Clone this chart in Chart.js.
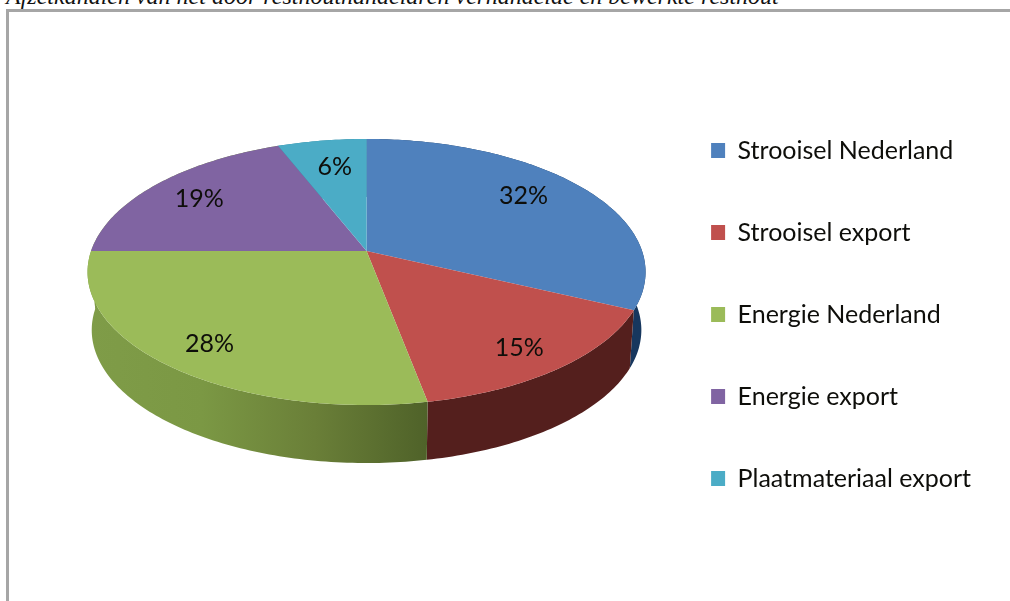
<!DOCTYPE html>
<html>
<head>
<meta charset="utf-8">
<script src="https://cdn.jsdelivr.net/npm/chart.js@4/dist/chart.umd.min.js"></script>
<style>
    html, body { margin: 0; padding: 0; background: #fff; overflow: hidden; }
    #kop { position: absolute; left: 6px; top: -17px; font: italic 24px "Liberation Serif", serif; color: #111; white-space: nowrap; }
    #kader { position: absolute; left: 6px; top: 9px; width: 1010px; height: 600px; border-left: 3px solid #a6a6a6; border-top: 3px solid #a6a6a6; }
    #wrap { position: absolute; left: 0; top: 0; width: 1010px; height: 601px; }
</style>
</head>
<body>
<div id="kop">Afzetkanalen van het door resthouthandelaren verhandelde en bewerkte resthout</div>
<div id="kader"></div>
<div id="wrap"><canvas id="pieChart" width="1010" height="601"></canvas></div>
<script>
var categories = ["Strooisel Nederland", "Strooisel export", "Energie Nederland", "Energie export", "Plaatmateriaal export"];
var shares = [32, 15, 28, 19, 6];
var sliceColors = ["#4f81bd", "#c0504d", "#9bbb59", "#8064a2", "#4bacc6"];
// side of the cake: colours from left to right over each wall
var greenWall = ["#7f9c48", "#7b9844", "#6a7f38", "#4f6229"];
var wallColors = [["#17375e", "#17375e"], ["#4f1f1c", "#541f1d"], greenWall, greenWall, ["#31859c", "#31859c"]];
var labelNudge = [[-7, -6], [13, 12], [-12, 10], [-7, -1], [3, 2]];

var squash = 0.4708;     // top face height / width
var perspective = 0.158; // near rim looks bigger than far rim
var depth = 58;          // height of the wall
var lowerRim = 0.985;    // bottom rim is a bit narrower
var liftY = -63.5;       // legend stays centred in the area, the pie sits higher

function project(arc, angle, frac) {
    var u = Math.cos(angle) * frac, v = Math.sin(angle) * frac;
    var d = 1 - perspective * v;
    return {
        x: arc.x + arc.outerRadius * u / d,
        y: arc.y + liftY + arc.outerRadius * squash * v / d
    };
}

function rimPoints(arc) {
    var pts = [];
    var steps = Math.max(4, Math.ceil((arc.endAngle - arc.startAngle) * 60));
    for (var i = 0; i <= steps; i++) {
        pts.push(project(arc, arc.startAngle + (arc.endAngle - arc.startAngle) * i / steps, 1));
    }
    return pts;
}

// top face of a slice, in perspective instead of a flat circle
Chart.ArcElement.prototype.draw = function (ctx) {
    var apex = project(this, 0, 0);
    ctx.save();
    ctx.fillStyle = this.options.backgroundColor;
    ctx.beginPath();
    ctx.moveTo(apex.x, apex.y);
    rimPoints(this).forEach(function (p) { ctx.lineTo(p.x, p.y); });
    ctx.closePath();
    ctx.fill();
    ctx.restore();
};

var cakePlugin = {
    id: 'cake',
    beforeDatasetsDraw: function (chart) {
        var ctx = chart.ctx;
        chart.getDatasetMeta(0).data.forEach(function (arc, i) {
            var pts = rimPoints(arc);
            var cx = arc.x;
            var grad = ctx.createLinearGradient(89, 0, 427, 0);
            wallColors[i].forEach(function (c, n, all) { grad.addColorStop(n / (all.length - 1), c); });
            ctx.fillStyle = grad;
            ctx.beginPath();
            pts.forEach(function (p, k) { k ? ctx.lineTo(p.x, p.y) : ctx.moveTo(p.x, p.y); });
            for (var k = pts.length - 1; k >= 0; k--) {
                ctx.lineTo(cx + (pts[k].x - cx) * lowerRim, pts[k].y + depth);
            }
            ctx.closePath();
            ctx.fill();
        });
    },
    afterDatasetsDraw: function (chart) {
        var ctx = chart.ctx;
        ctx.save();
        ctx.fillStyle = "#0e0e0a";
        ctx.font = '25px Lato';
        ctx.textAlign = 'center';
        ctx.textBaseline = 'middle';
        chart.getDatasetMeta(0).data.forEach(function (arc, i) {
            var p = project(arc, (arc.startAngle + arc.endAngle) / 2, 0.75);
            ctx.fillText(shares[i] + "%", p.x + labelNudge[i][0], p.y + labelNudge[i][1]);
        });
        ctx.restore();
    }
};

var pieChart = new Chart(document.getElementById("pieChart"), {
    type: 'pie',
    data: {
        labels: categories,
        datasets: [{
            data: shares,
            backgroundColor: sliceColors,
            borderWidth: 0
        }]
    },
    options: {
        responsive: false,
        animation: false,
        radius: 275.5,
        layout: { padding: { left: 79, right: 29, top: 28 } },
        plugins: {
            tooltip: { enabled: false },
            legend: {
                position: 'right',
                labels: {
                    boxWidth: 14,
                    boxHeight: 15,
                    padding: 57,
                    color: "#0e0e0a",
                    font: { family: 'Lato', size: 25 }
                }
            }
        }
    },
    plugins: [cakePlugin]
});
</script>
</body>
</html>
